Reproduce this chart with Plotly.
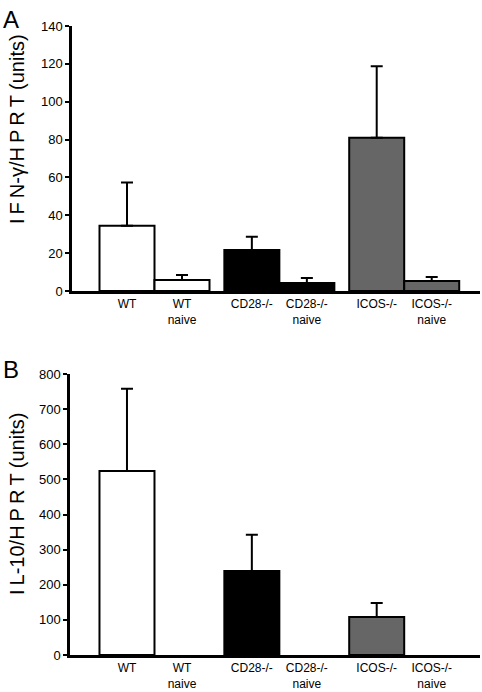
import plotly.graph_objects as go

groups = ["WT", "CD28-/-", "ICOS-/-"]
tick_labels = ["WT", "WT<br>naive", "CD28-/-", "CD28-/-<br>naive", "ICOS-/-", "ICOS-/-<br>naive"]
fill_colors = ["#ffffff", "#000000", "#666666"]

ifn_act = [34.5, 21.7, 81.0]
ifn_act_err = [22.8, 6.9, 37.8]
ifn_naive = [5.8, 4.2, 5.3]
ifn_naive_err = [2.7, 2.7, 2.1]

il10_act = [524, 239, 108]
il10_act_err = [234, 103, 40]
il10_naive = [0, 0, 0]

GROUP_STEP = 2.27
pos_act = [i * GROUP_STEP for i in range(len(groups))]
pos_naive = [i * GROUP_STEP + 1 for i in range(len(groups))]
tick_pos = sorted(pos_act + pos_naive)

NARROW = "Liberation Sans Narrow, Arial Narrow, Liberation Sans, Arial"
REG = "Liberation Sans, Arial, Helvetica"

fig = go.Figure()


def add_bars(xa, ya, act, act_err, naive, naive_err):
    fig.add_trace(go.Bar(
        x=pos_act, y=act, width=1, xaxis=xa, yaxis=ya,
        marker=dict(color=fill_colors, line=dict(color="black", width=2)),
        error_y=dict(type="data", array=act_err, arrayminus=[0] * 3, symmetric=False,
                     color="black", thickness=2, width=6),
        showlegend=False, hoverinfo="skip"))
    ey = None
    line_w = [2 if v > 0 else 0 for v in naive]
    if naive_err is not None:
        ey = dict(type="data", array=naive_err, arrayminus=[0] * 3, symmetric=False,
                  color="black", thickness=2, width=6)
    fig.add_trace(go.Bar(
        x=pos_naive, y=naive, width=1, xaxis=xa, yaxis=ya,
        marker=dict(color=fill_colors, line=dict(color="black", width=line_w)),
        error_y=ey, showlegend=False, hoverinfo="skip"))


add_bars("x", "y", ifn_act, ifn_act_err, ifn_naive, ifn_naive_err)
add_bars("x2", "y2", il10_act, il10_act_err, il10_naive, None)

W, H = 482, 692
axA = dict(domain=[72 / W, 480 / W], range=[-1.0, 6.418], tickvals=tick_pos, ticktext=tick_labels,
           showline=True, linecolor="black", linewidth=2.5, ticks="", showgrid=False, zeroline=False,
           automargin=False,
           tickfont=dict(family=NARROW, size=12, color="black"), anchor="y")
axB = dict(axA, domain=[70 / W, 480 / W], range=[-1.036, 6.418], anchor="y2")

yA = dict(domain=[1 - 291 / H, 1 - 26 / H], range=[0, 140], dtick=20, tick0=0,
          showline=True, linecolor="black", linewidth=2.5, ticks="outside", ticklen=4, tickwidth=2,
          tickcolor="black", showgrid=False, zeroline=False, automargin=False,
          tickfont=dict(family=NARROW, size=13, color="black"), anchor="x")
yB = dict(yA, domain=[1 - 655 / H, 1 - 374 / H], range=[0, 800], dtick=100,
          tickfont=dict(family=REG, size=13, color="black"), anchor="x2")

ts = "\u2009"
fig.update_layout(
    width=W, height=H, margin=dict(l=0, r=0, t=0, b=0, autoexpand=False),
    paper_bgcolor="white", plot_bgcolor="white",
    barmode="overlay",
    xaxis=axA, yaxis=yA, xaxis2=axB, yaxis2=yB,
    annotations=[
        dict(text="A", x=1 / W, y=1 - 4 / H, xref="paper", yref="paper", xanchor="left", yanchor="top",
             showarrow=False, font=dict(family=REG, size=24, color="black")),
        dict(text="B", x=1 / W, y=1 - 354 / H, xref="paper", yref="paper", xanchor="left", yanchor="top",
             showarrow=False, font=dict(family=REG, size=24, color="black")),
        dict(text=ts.join("IFN") + "-γ/" + ts.join("HPRT") + " (units)", x=17 / W, y=1 - 129 / H,
             xref="paper", yref="paper", xanchor="center", yanchor="middle",
             textangle=-90, showarrow=False, font=dict(family=REG, size=20, color="black")),
        dict(text=ts.join("IL") + "-10/" + ts.join("HPRT") + " (units)", x=17 / W, y=1 - 504 / H,
             xref="paper", yref="paper", xanchor="center", yanchor="middle",
             textangle=-90, showarrow=False, font=dict(family=REG, size=20, color="black")),
    ],
)

fig.write_html("out.html", config={"displayModeBar": False},
               post_script="document.body.style.margin='0';document.body.style.padding='0';")
